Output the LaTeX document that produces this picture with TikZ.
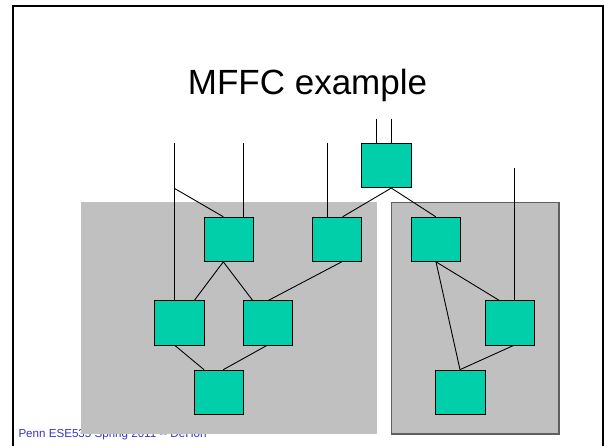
\documentclass[tikz,border=0pt]{standalone}
\usepackage{fontspec}
\setmainfont{Liberation Sans}
\definecolor{gatefill}{RGB}{0,207,170}
\definecolor{regionfill}{RGB}{192,192,192}
\definecolor{regionedge}{RGB}{96,96,96}
\definecolor{footblue}{RGB}{51,51,204}
\begin{document}
\begin{tikzpicture}[x=1pt,y=-1pt,
  gate/.style={rectangle,draw=black,fill=gatefill,line width=0.9pt,
    minimum width=49.5pt,minimum height=44.2pt,inner sep=0pt},
  wire/.style={draw=black,line width=0.9pt}]
  \useasboundingbox (0,0) rectangle (604,446);

  % slide frame (open at the bottom)
  \draw[line width=2pt] (13,450) -- (13,6) -- (602.5,6) -- (602.5,450);

  % title
  \node[anchor=base,inner sep=0pt,font=\fontsize{35}{40}\selectfont] (title) at (307.5,95) {MFFC example};

  % footer, partly hidden by the left region
  \node[anchor=base west,inner sep=0pt,text=footblue,font=\fontsize{11.6}{13}\selectfont] (footer) at (18.3,437.7) {Penn ESE535 Spring 2011 {-}{-} DeHon};

  % MFFC regions
  \fill[regionfill] (80.7,202) rectangle (376.7,434);
  \draw[fill=regionfill,draw=regionedge,line width=1.2pt] (391.7,202.3) rectangle (559,434);

  % gates
  \node[gate] (T)  at (386.2,165.5) {};
  \node[gate] (B1) at (228.7,239.3) {};
  \node[gate] (B2) at (337,239.3) {};
  \node[gate] (B3) at (179.3,323) {};
  \node[gate] (B4) at (268,323) {};
  \node[gate] (B5) at (218.7,392.2) {};
  \node[gate] (R1) at (435.7,239.3) {};
  \node[gate] (R2) at (509.7,323) {};
  \node[gate] (R3) at (460.2,392.2) {};

  % primary inputs
  \coordinate (in1) at (174.3,143.3);
  \coordinate (br)  at (174.3,188.3);
  \coordinate (in2) at (243.3,143.3);
  \coordinate (in3) at (327,143.3);
  \coordinate (tin1) at (376.7,119);
  \coordinate (tin2) at (391.3,119);
  \coordinate (in4) at (514.5,168.3);

  % wires
  \draw[wire] (in1) -- ([xshift=-5pt]B3.north);
  \draw[wire] (br) -- ([xshift=-5.4pt]B1.north);
  \draw[wire] (in2) -- ([xshift=14.6pt]B1.north);
  \draw[wire] (in3) -- ([xshift=-10pt]B2.north);
  \draw[wire] (tin1) -- ([xshift=-9.5pt]T.north);
  \draw[wire] (tin2) -- ([xshift=5.1pt]T.north);
  \draw[wire] (in4) -- ([xshift=4.8pt]R2.north);

  \draw[wire] ([xshift=5.1pt]T.south) -- ([xshift=5.7pt]B2.north);
  \draw[wire] ([xshift=5.1pt]T.south) -- (R1.north);

  \draw[wire] ([xshift=-5.4pt]B1.south) -- ([xshift=15pt]B3.north);
  \draw[wire] ([xshift=-5.4pt]B1.south) -- ([xshift=-15.3pt]B4.north);
  \draw[wire] ([xshift=4.7pt]B2.south) -- ([xshift=0.3pt]B4.north);
  \draw[wire] ([xshift=-4.3pt]B3.south) -- ([xshift=-14.7pt]B5.north);
  \draw[wire] ([xshift=-1.3pt]B4.south) -- ([xshift=4.6pt]B5.north);

  \draw[wire] ([xshift=0.3pt]R1.south) -- ([xshift=-10.4pt]R2.north);
  \draw[wire] ([xshift=0.3pt]R1.south) -- ([xshift=-0.2pt]R3.north);
  \draw[wire] ([xshift=3.6pt]R2.south) -- ([xshift=-0.2pt]R3.north);
\end{tikzpicture}
\end{document}
